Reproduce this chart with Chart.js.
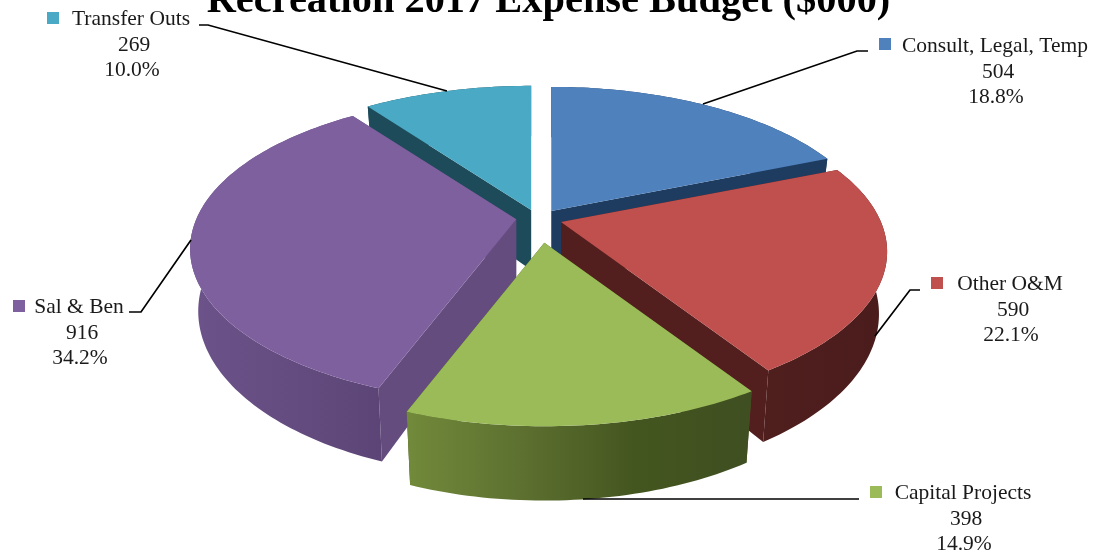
<!DOCTYPE html>
<html>
<head>
<meta charset="utf-8">
<title>Recreation 2017 Expense Budget ($000)</title>
<script src="https://cdn.jsdelivr.net/npm/chart.js@4/dist/chart.umd.min.js"></script>
<style>
    html, body { margin: 0; padding: 0; background: #fff; }
    canvas { display: block; }
</style>
</head>
<body>
<canvas id="budgetChart" width="1094" height="554"></canvas>
<script>
const chartTitle = "Recreation 2017 Expense Budget ($000)";
const categories = ["Consult, Legal, Temp", "Other O&M", "Capital Projects", "Sal & Ben", "Transfer Outs"];
const expenses = [504, 590, 398, 916, 269];
const percentLabels = ["18.8%", "22.1%", "14.9%", "34.2%", "10.0%"];

const topColors = ["#4f81bd", "#c0504d", "#9bbb59", "#7f609f", "#4aaac5"];
const cutColors = ["#1e3c60", "#531f1e", "#44561f", "#644c7f", "#1e4b59"];
// left to right shading of the rim of each slice
const rimStops = [
    ["#1e3c60", "#1e3c60"],
    ["#4f1f1e", "#4b1c1c"],
    ["#71893a", "#5d7030", "#44561f", "#3f4f21"],
    ["#6b5289", "#644c80", "#5c4576"],
    ["#1e4b59", "#1e4b59"]
];

// small per-slice shift of the wedge on the page, [x, y]
const sliceShift = [[-1, 1], [0, -7], [2, 2], [-2, -7], [-2, 2]];

// label block for each slice: marker corner, text centre, first line y
const labelBoxes = [
    { mx: 879, my: 38, cx: 995, y: 46 },
    { mx: 931, my: 277, cx: 1010, y: 284 },
    { mx: 870, my: 486, cx: 963, y: 493 },
    { mx: 13, my: 300, cx: 79, y: 307 },
    { mx: 47, my: 12, cx: 131, y: 19 }
];
// leader lines, label end first
const leaderLines = [
    [[868, 51], [857, 51], [703, 104]],
    [[920, 290], [910, 290], [875, 336]],
    [[859, 499], [583, 499]],
    [[129, 312], [141, 312], [191, 240]],
    [[199, 25], [208, 25], [447, 91]]
];

// slices are painted back to front
const paintOrder = [4, 0, 3, 1, 2];

const tiltRatio = 0.4625;    // vertical squash of the pie plane
const perspective = 0.193;   // how much the front edge grows over the back
const wallHeight = 60;
const wallInset = 0.975;     // bottom rim sits slightly inside the top rim
const explodeY = 0.77;

function project(angle, r, radius) {
    const u = Math.cos(angle) * r;
    const v = Math.sin(angle) * r;
    const s = 1 / (1 - perspective * v / radius);
    return { x: u * s, y: v * s * tiltRatio, s: s };
}

function sliceGeometry(arc, shift) {
    const mid = (arc.startAngle + arc.endAngle) / 2;
    const ox = arc.x + Math.cos(mid) * arc.options.offset + shift[0];
    const oy = arc.y + Math.sin(mid) * arc.options.offset * explodeY + shift[1];
    const top = [];
    const bottom = [];
    const steps = Math.ceil((arc.endAngle - arc.startAngle) / 0.02);
    for (let i = 0; i <= steps; i++) {
        const a = arc.startAngle + (arc.endAngle - arc.startAngle) * i / steps;
        const p = project(a, arc.outerRadius, arc.outerRadius);
        top.push({ x: ox + p.x, y: oy + p.y });
        bottom.push({ x: ox + p.x * wallInset, y: oy + p.y + wallHeight * p.s });
    }
    return { top, bottom, apex: { x: ox, y: oy }, apexLow: { x: ox, y: oy + wallHeight } };
}

function fillPath(ctx, points, fill) {
    ctx.beginPath();
    points.forEach(function (p, i) {
        if (i === 0) ctx.moveTo(p.x, p.y);
        else ctx.lineTo(p.x, p.y);
    });
    ctx.closePath();
    ctx.fillStyle = fill;
    ctx.fill();
}

function rimGradient(ctx, geo, stops) {
    const xs = geo.bottom.map(function (p) { return p.x; });
    const grad = ctx.createLinearGradient(Math.min.apply(null, xs), 0, Math.max.apply(null, xs), 0);
    stops.forEach(function (c, i) { grad.addColorStop(i / (stops.length - 1), c); });
    return grad;
}

// draws each arc element as a thick tilted wedge
const tiltedPie = {
    id: "tiltedPie",
    beforeDatasetDraw: function (chart) {
        const ctx = chart.ctx;
        const arcs = chart.getDatasetMeta(0).data;
        paintOrder.forEach(function (i) {
            const geo = sliceGeometry(arcs[i], sliceShift[i]);
            const n = geo.top.length - 1;
            fillPath(ctx, [geo.apex, geo.top[0], geo.bottom[0], geo.apexLow], cutColors[i]);
            fillPath(ctx, [geo.apex, geo.top[n], geo.bottom[n], geo.apexLow], cutColors[i]);
            fillPath(ctx, geo.top.concat(geo.bottom.slice().reverse()), rimGradient(ctx, geo, rimStops[i]));
            fillPath(ctx, [geo.apex].concat(geo.top), topColors[i]);
        });
        return false;
    },
    afterDraw: function (chart) {
        const ctx = chart.ctx;
        ctx.save();

        ctx.fillStyle = "#000";
        ctx.textAlign = "center";
        ctx.textBaseline = "alphabetic";
        ctx.font = "bold 40.4px 'Liberation Serif'";
        ctx.fillText(chartTitle, 548.5, 12);

        ctx.strokeStyle = "#000";
        ctx.lineWidth = 1.7;
        leaderLines.forEach(function (line) {
            ctx.beginPath();
            line.forEach(function (p, i) {
                if (i === 0) ctx.moveTo(p[0], p[1]);
                else ctx.lineTo(p[0], p[1]);
            });
            ctx.stroke();
        });

        ctx.font = "21.5px 'Liberation Serif'";
        ctx.textBaseline = "middle";
        labelBoxes.forEach(function (box, i) {
            ctx.fillStyle = topColors[i];
            ctx.fillRect(box.mx, box.my, 12, 12);
            ctx.fillStyle = "#1a1a1a";
            ctx.fillText(categories[i], box.cx, box.y);
            ctx.fillText(String(expenses[i]), box.cx + 3, box.y + 26);
            ctx.fillText(percentLabels[i], box.cx + 1, box.y + 51);
        });
        ctx.restore();
    }
};

new Chart(document.getElementById("budgetChart"), {
    type: "pie",
    data: {
        labels: categories,
        datasets: [{
            data: expenses,
            backgroundColor: topColors,
            offset: 22,
            borderWidth: 0
        }]
    },
    options: {
        responsive: false,
        animation: false,
        radius: 320,
        layout: { padding: { right: 14, bottom: 106 } },
        plugins: {
            legend: { display: false },
            tooltip: { enabled: false }
        }
    },
    plugins: [tiltedPie]
});
</script>
</body>
</html>
